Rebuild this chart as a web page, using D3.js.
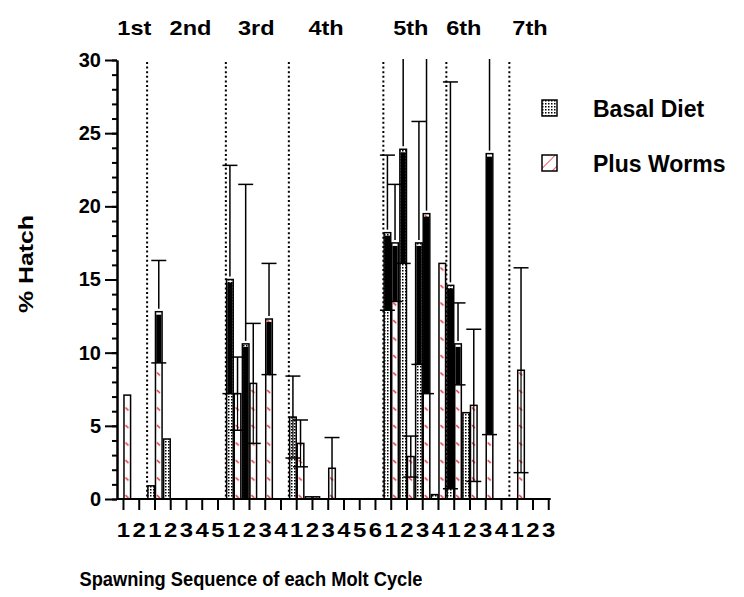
<!DOCTYPE html>
<html>
<head>
<meta charset="utf-8">
<script src="https://d3js.org/d3.v7.min.js"></script>
<style>
  body { margin: 0; background: #fff; }
  svg { font-family: "Liberation Sans", Arial, sans-serif; font-weight: bold; }
</style>
</head>
<body>
<svg id="chart" width="744" height="597"></svg>
<script>
// molt cycles and how many spawnings each one had
var cycles = ["1st", "2nd", "3rd", "4th", "5th", "6th", "7th"];
var spawnsPerCycle = [2, 5, 4, 6, 4, 4, 3];

// % hatch, one value per spawning (28 in order)
var basal    = [0, 0, 0.9, 4.1, 0, 0, 0, 15.0, 10.6, 0, 0, 5.6, 0.15, 0, 0, 0, 0, 18.2, 23.9, 17.5, 0.3, 14.6, 5.9, 0, 0, 0, 0, 0];
var basalErr = [0, 0, 0, 0, 0, 0, 0, 7.8, 10.9, 0, 0, 2.8, 0, 0, 0, 0, 0, 5.3, 7.8, 8.3, 0, 13.9, 0, 0, 0, 0, 0, 0];
var worms    = [7.1, 0, 12.8, 0, 0, 0, 0, 7.2, 7.9, 12.3, 0, 3.8, 0.15, 2.1, 0, 0, 0, 17.5, 2.9, 19.5, 16.1, 10.6, 6.4, 23.6, 0, 8.8, 0, 0];
var wormsErr = [0, 0, 3.5, 0, 0, 0, 0, 2.5, 4.1, 3.8, 0, 1.6, 0, 2.1, 0, 0, 0, 4.0, 1.4, 12.3, 0, 2.8, 5.2, 19.2, 0, 7.0, 0, 0];

var yTicks = [0, 5, 10, 15, 20, 25, 30];
var seriesNames = ["Basal Diet", "Plus Worms"];

var svg = d3.select("#chart");
svg.append("rect").attr("width", 744).attr("height", 597).attr("fill", "#fff");

// stretch text sideways, the original font is wider than Liberation Sans
function stretch(sel, f) {
  sel.each(function() {
    var n = this.getComputedTextLength();
    d3.select(this).attr("textLength", n * f).attr("lengthAdjust", "spacingAndGlyphs");
  });
}

// build the spawning list
var spawns = [];
cycles.forEach(function(c, ci) {
  for (var s = 1; s <= spawnsPerCycle[ci]; s++) spawns.push({cycle: ci, seq: s});
});
spawns.forEach(function(d, i) {
  d.i = i;
  d.basal = basal[i]; d.basalErr = basalErr[i];
  d.worms = worms[i]; d.wormsErr = wormsErr[i];
});

var x = d3.scaleBand().domain(d3.range(spawns.length)).range([115.6, 556.6]);
var y = d3.scaleLinear().domain([0, 30]).range([499, 60]);
var step = x.step();
var bw = 7.6;
function cx(i) { return x(i) + step / 2; }

// patterns
var defs = svg.append("defs");
var pb = defs.append("pattern").attr("id", "basalPat").attr("patternUnits", "userSpaceOnUse")
  .attr("width", 3).attr("height", 3);
pb.append("rect").attr("width", 3).attr("height", 3).attr("fill", "#fff");
pb.append("rect").attr("width", 1.5).attr("height", 1.5).attr("fill", "#000");

var pw = defs.append("pattern").attr("id", "wormPat").attr("patternUnits", "userSpaceOnUse")
  .attr("x", cx(0)).attr("width", step).attr("height", 17.5);
pw.append("rect").attr("width", step).attr("height", 17.5).attr("fill", "#fff");
pw.append("line").attr("x1", 2).attr("y1", 5).attr("x2", 5).attr("y2", 8)
  .attr("stroke", "#e8202a").attr("stroke-width", 1.4);

var pl = defs.append("pattern").attr("id", "wormLeg").attr("patternUnits", "userSpaceOnUse")
  .attr("width", 9).attr("height", 9).attr("patternTransform", "rotate(45)");
pl.append("rect").attr("width", 9).attr("height", 9).attr("fill", "#fff");
pl.append("line").attr("x1", 0).attr("y1", 0).attr("x2", 0).attr("y2", 9)
  .attr("stroke", "#e8202a").attr("stroke-width", 1.5);

// dotted separators between molt cycles
var sepIdx = [];
var acc = 0;
spawnsPerCycle.forEach(function(n, k) { acc += n; if (k < cycles.length - 1) sepIdx.push(acc - 1); });
svg.append("g").selectAll("line").data(sepIdx).join("line")
  .attr("x1", function(i) { return cx(i) + step / 2; })
  .attr("x2", function(i) { return cx(i) + step / 2; })
  .attr("y1", 62).attr("y2", y(0))
  .attr("stroke", "#000").attr("stroke-width", 2).attr("stroke-dasharray", "2,2.6");

// bars
var series = [
  {key: "basal", err: "basalErr", fill: "url(#basalPat)", off: -bw},
  {key: "worms", err: "wormsErr", fill: "url(#wormPat)", off: 0}
];
var gBars = svg.append("g");
series.forEach(function(s) {
  var rows = spawns.filter(function(d) { return d[s.key] > 0; });
  gBars.selectAll(null).data(rows).join("rect")
    .attr("x", function(d) { return cx(d.i) + s.off + 0.5; })
    .attr("y", function(d) { return y(d[s.key]); })
    .attr("width", bw - 1)
    .attr("height", function(d) { return y(0) - y(d[s.key]); })
    .attr("fill", s.fill).attr("stroke", "#000").attr("stroke-width", 1.5);
});

// error bars
var gErr = svg.append("g");
series.forEach(function(s) {
  var rows = spawns.filter(function(d) { return d[s.err] > 0; });
  rows.forEach(function(d) {
    var mx = cx(d.i) + s.off + bw / 2;
    var hi = d[s.key] + d[s.err], lo = Math.max(0, d[s.key] - d[s.err]);
    // lower whisker inside the bar: the original paints it heavy on the taller bars
    var heavy = d[s.key] >= 10;
    if (heavy) {
      gErr.append("rect")
        .attr("x", mx - bw / 2 + 1.2).attr("width", bw - 2.4)
        .attr("y", y(d[s.key]) + 3).attr("height", Math.max(0, y(lo) - y(d[s.key]) - 3))
        .attr("fill", "#000");
    } else {
      gErr.append("line").attr("x1", mx).attr("x2", mx)
        .attr("y1", y(d[s.key])).attr("y2", y(lo))
        .attr("stroke", "#000").attr("stroke-width", 1.2);
    }
    gErr.append("line").attr("x1", mx).attr("x2", mx)
      .attr("y1", y(Math.min(hi, 30)) - (hi > 30 ? 1 : 0)).attr("y2", y(d[s.key]) - (heavy ? 3 : 0))
      .attr("stroke", "#000").attr("stroke-width", 1.5);
    if (hi <= 30) {
      gErr.append("line").attr("x1", mx - 7.5).attr("x2", mx + 7.5)
        .attr("y1", y(hi)).attr("y2", y(hi)).attr("stroke", "#000").attr("stroke-width", 1.5);
    }
    if (lo > 0) {
      gErr.append("line").attr("x1", mx - 7.5).attr("x2", mx + 7.5)
        .attr("y1", y(lo)).attr("y2", y(lo)).attr("stroke", "#000").attr("stroke-width", 1.5);
    }
  });
});

// y axis with minor ticks
var gy = svg.append("g").attr("transform", "translate(117,0)");
gy.call(d3.axisLeft(y).tickValues(d3.range(0, 31)).tickSize(5).tickFormat("").tickSizeOuter(0));
gy.call(function(g) {
  g.append("g").call(d3.axisLeft(y).tickValues(yTicks).tickSize(12).tickPadding(4).tickSizeOuter(0));
});
gy.selectAll("path, line").attr("stroke", "#000").attr("stroke-width", 2);
gy.selectAll("text").attr("fill", "#000").attr("font-size", 20).attr("font-weight", "bold")
  .attr("font-family", "Liberation Sans, Arial, sans-serif");

// x axis
var gx = svg.append("g").attr("transform", "translate(0," + y(0) + ")");
gx.call(d3.axisBottom(x).tickFormat(function(i) { return spawns[i].seq; })
  .tickSize(11).tickPadding(12).tickSizeOuter(0));
gx.select(".domain").attr("d", "M117,0H" + (cx(spawns.length - 1) + 2));
gx.selectAll("path, line").attr("stroke", "#000").attr("stroke-width", 2);
gx.selectAll("text").attr("fill", "#000").attr("font-size", 21).attr("font-weight", "bold")
  .attr("font-family", "Liberation Sans, Arial, sans-serif");
stretch(gx.selectAll("text"), 1.14);

// molt cycle labels on top
var first = [];
acc = 0;
spawnsPerCycle.forEach(function(n) { first.push([acc, acc + n - 1]); acc += n; });
var topShift = [3, 4, -1, -10, -4, -14, -3];
var tops = svg.append("g").selectAll("text").data(cycles).join("text")
  .attr("x", function(c, k) { return (cx(first[k][0]) + cx(first[k][1])) / 2 + topShift[k]; })
  .attr("y", 35).attr("text-anchor", "middle").attr("font-size", 21)
  .text(function(c) { return c; });
stretch(tops, 1.12);

// legend
var leg = svg.append("g").attr("transform", "translate(542,100)");
seriesNames.forEach(function(name, k) {
  var g = leg.append("g").attr("transform", "translate(0," + (k * 55) + ")");
  g.append("rect").attr("width", 15).attr("height", 16)
    .attr("fill", k === 0 ? "url(#basalPat)" : "url(#wormLeg)")
    .attr("stroke", "#000").attr("stroke-width", 1.5);
  g.append("text").attr("x", 51).attr("y", 17).attr("font-size", 23).text(name);
});

// axis titles
svg.append("text").attr("transform", "translate(33,264) rotate(-90)")
  .attr("text-anchor", "middle").attr("font-size", 21)
  .attr("textLength", 98).attr("lengthAdjust", "spacingAndGlyphs").text("% Hatch");
svg.append("text").attr("x", 251).attr("y", 586).attr("text-anchor", "middle")
  .attr("font-size", 20).attr("textLength", 343).attr("lengthAdjust", "spacingAndGlyphs")
  .text("Spawning Sequence of each Molt Cycle");
</script>
</body>
</html>
